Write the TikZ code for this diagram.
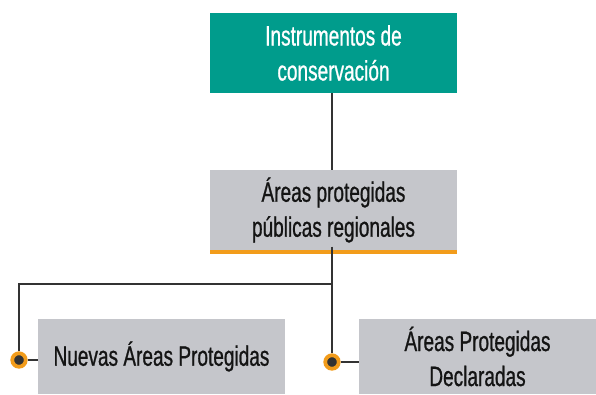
\documentclass[tikz,border=0pt]{standalone}
\usepackage{fontspec}
\setmainfont[FakeStretch=0.68,FakeBold=0.8]{Liberation Sans}
\definecolor{teal1}{HTML}{009C8C}
\definecolor{gray1}{HTML}{C5C6CB}
\definecolor{orange1}{HTML}{F29C1B}
\definecolor{dark1}{HTML}{333333}
\definecolor{txt1}{HTML}{141414}
\begin{document}
\begin{tikzpicture}[x=1pt,y=-1pt,
  boxst/.style={draw=none,inner sep=0pt,align=center,font=\fontsize{28}{35}\selectfont},
  conn/.style={draw=dark1,line width=2pt},
  dotst/.style={circle,draw=orange1,line width=3.8pt,fill=dark1,minimum size=13.5pt,inner sep=0pt}]
\useasboundingbox (0,0) rectangle (596,394);
\node[boxst,fill=teal1,text=white,minimum width=247pt,minimum height=80pt] (top) at (333.5,53) {Instrumentos de\\conservación};
\node[boxst,fill=gray1,text=txt1,minimum width=247pt,minimum height=80pt] (mid) at (333.5,210) {Áreas protegidas\\públicas regionales};
\fill[orange1] (mid.south west) rectangle ([yshift=-3.5pt]mid.south east);
\node[boxst,fill=gray1,text=txt1,minimum width=247pt,minimum height=75pt] (b1) at (161.5,356.5) {Nuevas Áreas Protegidas};
\node[boxst,fill=gray1,text=txt1,minimum width=237pt,minimum height=75pt] (b2) at (477.5,356.5) {Áreas Protegidas\\Declaradas};
\coordinate (j) at (332,284);
\node[dotst] (d1) at (19,360) {};
\node[dotst] (d2) at (332,362) {};
\draw[conn] (top.south -| j) -- (mid.north -| j);
\draw[conn] ([yshift=3.5pt]mid.south -| j) -- (j) -- (d2);
\draw[conn] (j) -| (d1);
\draw[conn] (d1) -- (d1 -| b1.west);
\draw[conn] (d2) -- (d2 -| b2.west);
\end{tikzpicture}
\end{document}
